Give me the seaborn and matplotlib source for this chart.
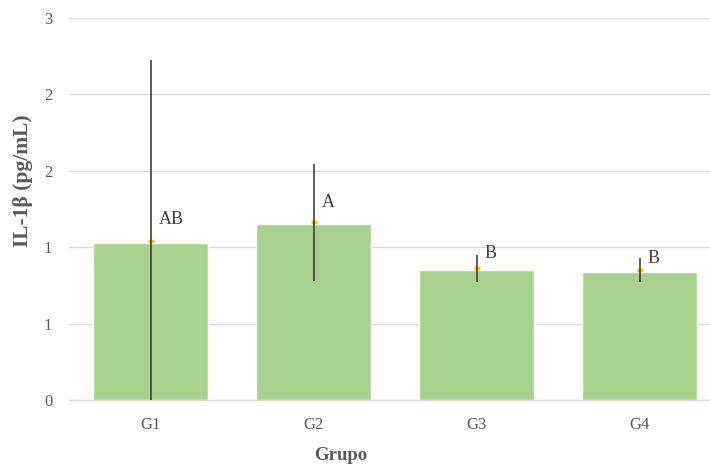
import pandas as pd
import matplotlib.pyplot as plt
import seaborn as sns

grupos = ["G1", "G2", "G3", "G4"]
bar_vals = [1.025, 1.152, 0.851, 0.840]
medias = [1.038, 1.163, 0.862, 0.851]
desvios = [1.187, 0.382, 0.087, 0.078]
letras = ["AB", "A", "B", "B"]

df = pd.DataFrame({"Grupo": grupos, "IL1b": bar_vals})

sns.set_style("white")
plt.rcParams["font.family"] = ["Liberation Serif", "DejaVu Serif"]

fig = plt.figure(figsize=(7.1, 4.66), dpi=100)
ax = fig.add_axes([69 / 710, 66 / 466, 652 / 710, 382 / 466])

sns.barplot(data=df, x="Grupo", y="IL1b", color="#A9D18E", saturation=1,
            width=0.705, errorbar=None, ax=ax, zorder=2)

# error bars + mean markers
xs = range(len(grupos))
ax.errorbar(xs, medias, yerr=desvios, fmt="none", ecolor="#3F3F3F",
            elinewidth=1.2, capsize=0, zorder=4)
ax.plot(xs, medias, linestyle="none", marker="_", markersize=5,
        markeredgewidth=2.5, color="#FFC000", zorder=3)

# letters of significance
offsets = [15.6, 13.9, 10.3, 8.0]
for x, m, s, off in zip(xs, medias, letras, offsets):
    ax.annotate(s, (x, m), xytext=(5.8, off), textcoords="offset points",
                ha="left", va="center", fontsize=13, color="#404040")

ax.set_ylim(0, 2.5)
ax.set_xlim(-0.5, 3.5)
ticks = [0, 0.5, 1.0, 1.5, 2.0, 2.5]
ax.set_yticks(ticks)
ax.set_yticklabels(["0", "1", "1", "2", "2", "3"])
ax.grid(axis="y", color="#D9D9D9", linewidth=1)
ax.set_axisbelow(True)
for sp in ["top", "right", "left"]:
    ax.spines[sp].set_visible(False)
ax.spines["bottom"].set_color("#D9D9D9")
ax.tick_params(axis="both", length=0, labelsize=12, labelcolor="#595959")
ax.tick_params(axis="x", pad=12)
ax.tick_params(axis="y", pad=12)

ax.set_xlabel("Grupo", fontsize=13.5, fontweight="bold", color="#595959")
ax.set_ylabel("IL-1β (pg/mL)", fontsize=15.5, fontweight="bold", color="#595959")
ax.xaxis.set_label_coords(272 / 652, -47 / 382)
ax.yaxis.set_label_coords(-36 / 652, 219 / 382)

plt.savefig("out.png", dpi=100)
